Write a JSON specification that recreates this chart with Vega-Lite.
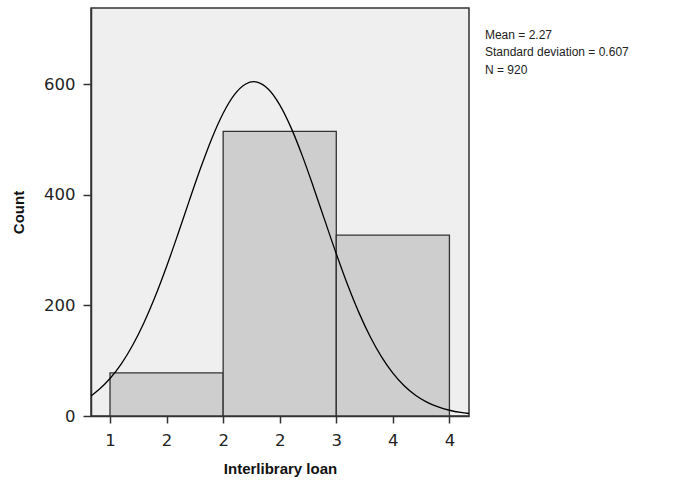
{
  "$schema": "https://vega.github.io/schema/vega-lite/v6.json",
  "width": 378,
  "height": 408,
  "autosize": {"type": "none"},
  "padding": {"left": 91, "top": 8, "right": 211, "bottom": 66},
  "background": "white",
  "config": {
    "view": {"stroke": "#333333", "strokeWidth": 1.5, "fill": "#efefef"},
    "axis": {
      "labelFont": "DejaVu Sans",
      "labelFontSize": 16.5,
      "labelColor": "#222222",
      "titleFont": "Liberation Sans",
      "titleFontSize": 15,
      "titleFontWeight": "bold",
      "titleColor": "#111111",
      "tickColor": "#333333",
      "tickWidth": 1.5,
      "domainColor": "#333333",
      "domainWidth": 1.5,
      "grid": false
    }
  },
  "datasets": {
    "bins": [
      {"start": 1, "end": 2, "count": 78},
      {"start": 2, "end": 3, "count": 515},
      {"start": 3, "end": 4, "count": 327}
    ],
    "curve": [
      {"x": 0.832, "y": 36.3},
      {"x": 0.9, "y": 47.4},
      {"x": 1.0, "y": 67.8},
      {"x": 1.1, "y": 94.3},
      {"x": 1.2, "y": 127.9},
      {"x": 1.3, "y": 168.7},
      {"x": 1.4, "y": 216.5},
      {"x": 1.5, "y": 270.4},
      {"x": 1.6, "y": 328.8},
      {"x": 1.7, "y": 389.1},
      {"x": 1.8, "y": 448.0},
      {"x": 1.9, "y": 502.1},
      {"x": 2.0, "y": 547.7},
      {"x": 2.1, "y": 581.4},
      {"x": 2.2, "y": 600.6},
      {"x": 2.27, "y": 604.7},
      {"x": 2.3, "y": 603.9},
      {"x": 2.4, "y": 591.0},
      {"x": 2.5, "y": 562.8},
      {"x": 2.6, "y": 521.6},
      {"x": 2.7, "y": 470.5},
      {"x": 2.8, "y": 413.0},
      {"x": 2.9, "y": 352.9},
      {"x": 3.0, "y": 293.4},
      {"x": 3.1, "y": 237.4},
      {"x": 3.2, "y": 187.0},
      {"x": 3.3, "y": 143.3},
      {"x": 3.4, "y": 106.9},
      {"x": 3.5, "y": 77.6},
      {"x": 3.6, "y": 54.8},
      {"x": 3.7, "y": 37.7},
      {"x": 3.8, "y": 25.2},
      {"x": 3.9, "y": 16.4},
      {"x": 4.0, "y": 10.4},
      {"x": 4.1, "y": 6.4},
      {"x": 4.173, "y": 4.5}
    ],
    "stats": [
      {"x": 4.314, "y": 682, "label": "Mean = 2.27\nStandard deviation = 0.607\nN = 920"}
    ]
  },
  "layer": [
    {
      "data": {"name": "bins"},
      "mark": {"type": "rect", "fill": "#cecece", "stroke": "#333333", "strokeWidth": 1.3},
      "encoding": {
        "x": {
          "field": "start",
          "type": "quantitative",
          "scale": {"domain": [0.832, 4.173], "nice": false, "zero": false},
          "axis": {
            "title": "Interlibrary loan",
            "values": [1, 1.5, 2, 2.5, 3, 3.5, 4],
            "labelExpr": "datum.value == 2.5 ? '2' : format(datum.value, '.0f')",
            "tickSize": 7,
            "labelPadding": 9,
            "titlePadding": 13
          }
        },
        "x2": {"field": "end"},
        "y": {
          "field": "count",
          "type": "quantitative",
          "scale": {"domain": [0, 738], "nice": false},
          "axis": {
            "title": "Count",
            "values": [0, 200, 400, 600],
            "tickSize": 8,
            "labelPadding": 8,
            "titlePadding": 17
          }
        },
        "y2": {"datum": 0}
      }
    },
    {
      "data": {"name": "curve"},
      "mark": {"type": "line", "color": "black", "strokeWidth": 1.3, "interpolate": "monotone"},
      "encoding": {
        "x": {"field": "x", "type": "quantitative"},
        "y": {"field": "y", "type": "quantitative"}
      }
    },
    {
      "data": {"name": "stats"},
      "mark": {
        "type": "text",
        "align": "left",
        "baseline": "alphabetic",
        "lineBreak": "\n",
        "lineHeight": 17.5,
        "font": "Liberation Sans",
        "fontSize": 12,
        "color": "#222222",
        "clip": false
      },
      "encoding": {
        "x": {"field": "x", "type": "quantitative"},
        "y": {"field": "y", "type": "quantitative"},
        "text": {"field": "label"}
      }
    }
  ]
}
